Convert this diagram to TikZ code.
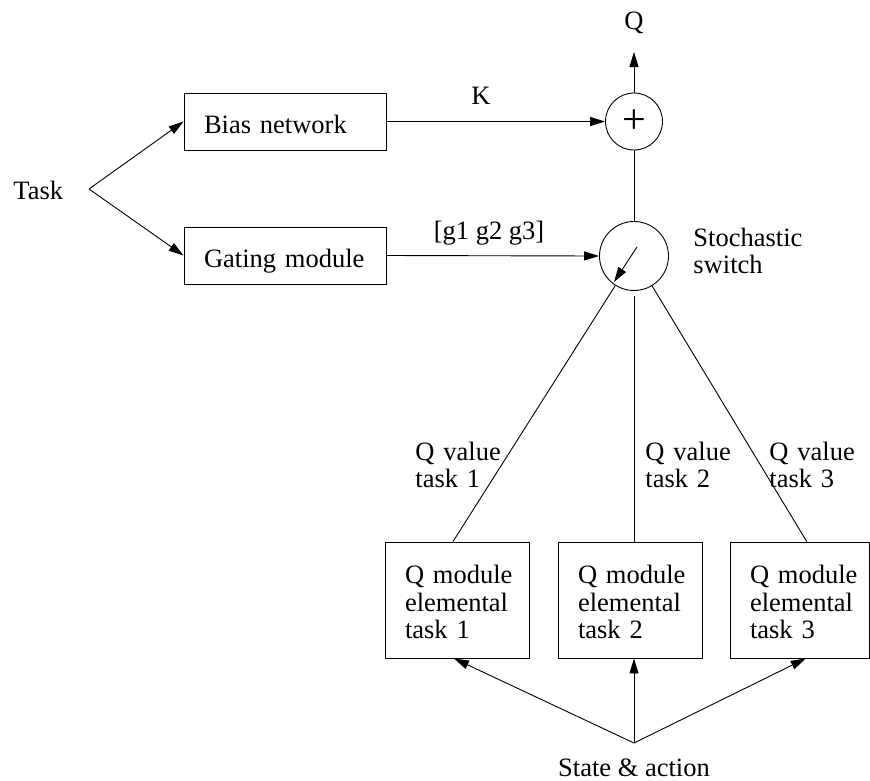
\documentclass[tikz,border=0pt]{standalone}
\usepackage{fontspec}
\setmainfont{Liberation Serif}
\usetikzlibrary{arrows.meta}
\hfuzz=20pt
\begin{document}
\begin{tikzpicture}[x=1pt,y=-1pt, line width=0.9pt,
  every node/.style={font=\fontsize{26.5}{27.5}\selectfont},
  arr/.style={-{Triangle[length=15pt,width=9pt]}},
  topbox/.style={draw, text width=162pt, inner xsep=20pt, inner ysep=0pt,
    text height=40.5pt, text depth=16.5pt, align=left},
  qbox/.style={draw, text width=104pt, inner xsep=20pt, inner ysep=0pt,
    text height=41.5pt, text depth=74.5pt, align=left},
  lbl/.style={inner sep=0pt},
  mlbl/.style={inner sep=0pt, align=left, anchor=base west},
  junction/.style={draw, circle, inner sep=0pt}
]
\useasboundingbox (0,0) rectangle (870,780);

% boxes
\node[topbox] (bias) at (285,121.5) {Bias network};
\node[topbox] (gate) at (285,255.5) {Gating module};
\node[qbox] (q1) at (457,600) {\mbox{Q module}\\\mbox{elemental}\\\mbox{task 1}};
\node[qbox] (q2) at (630,600) {\mbox{Q module}\\\mbox{elemental}\\\mbox{task 2}};
\node[qbox, text width=99.5pt] (q3) at (799.75,600) {\mbox{Q module}\\\mbox{elemental}\\\mbox{task 3}};

% junctions
\node[junction, minimum size=57pt] (plus) at (634,121.5) {};
\node[font=\fontsize{42}{42}\selectfont, inner sep=0pt] (plussign) at (634,121.5) {+};
\node[junction, minimum size=69pt] (sw) at (634,256) {};

% labels
\node[lbl, anchor=base west] (task) at (13,199) {Task};
\node[lbl, anchor=base] (qlab) at (634,29.5) {Q};
\node[lbl, anchor=base] (klab) at (481,104) {K};
\node[lbl, anchor=base] (glab) at (489,239) {[g1 g2 g3]};
\node[mlbl, text width=130pt] (swlab) at (693,246) {Stochastic\\switch};
\node[mlbl, text width=90pt] (v1) at (415,460) {Q value\\task 1};
\node[mlbl, text width=90pt] (v2) at (645,460) {Q value\\task 2};
\node[mlbl, text width=90pt] (v3) at (769,460) {Q value\\task 3};
\node[lbl, anchor=base] (salab) at (634,776) {State \& action};

% free ends
\coordinate (tsrc) at (89,189);
\coordinate (qend) at (634,52);
\coordinate (sasrc) at (634,743);

% connectors
\draw[arr] (tsrc) -- (bias.west);
\draw[arr] (tsrc) -- (gate.west);
\draw[arr] (bias.east) -- (plus.west);
\draw[arr] (gate.east) -- (sw.west);
\draw[arr] (plus.north) -- (qend);
\draw (plus.south) -- (sw.north);
\draw[-{Triangle[length=15pt,width=9pt]}] ([shift={(3,-9)}]sw.center) -- ([shift={(-20,26)}]sw.center);

\draw (sw) -- ([xshift=-4pt]q1.north);
\draw[shorten <=5pt] (sw.south) -- ([xshift=4pt]q2.north);
\draw (sw) -- ([xshift=7pt]q3.north);

\draw[arr] (sasrc) -- ([xshift=-3pt]q1.south);
\draw[arr] (sasrc) -- ([xshift=4pt]q2.south);
\draw[arr] (sasrc) -- ([xshift=6pt]q3.south);
\end{tikzpicture}
\end{document}
